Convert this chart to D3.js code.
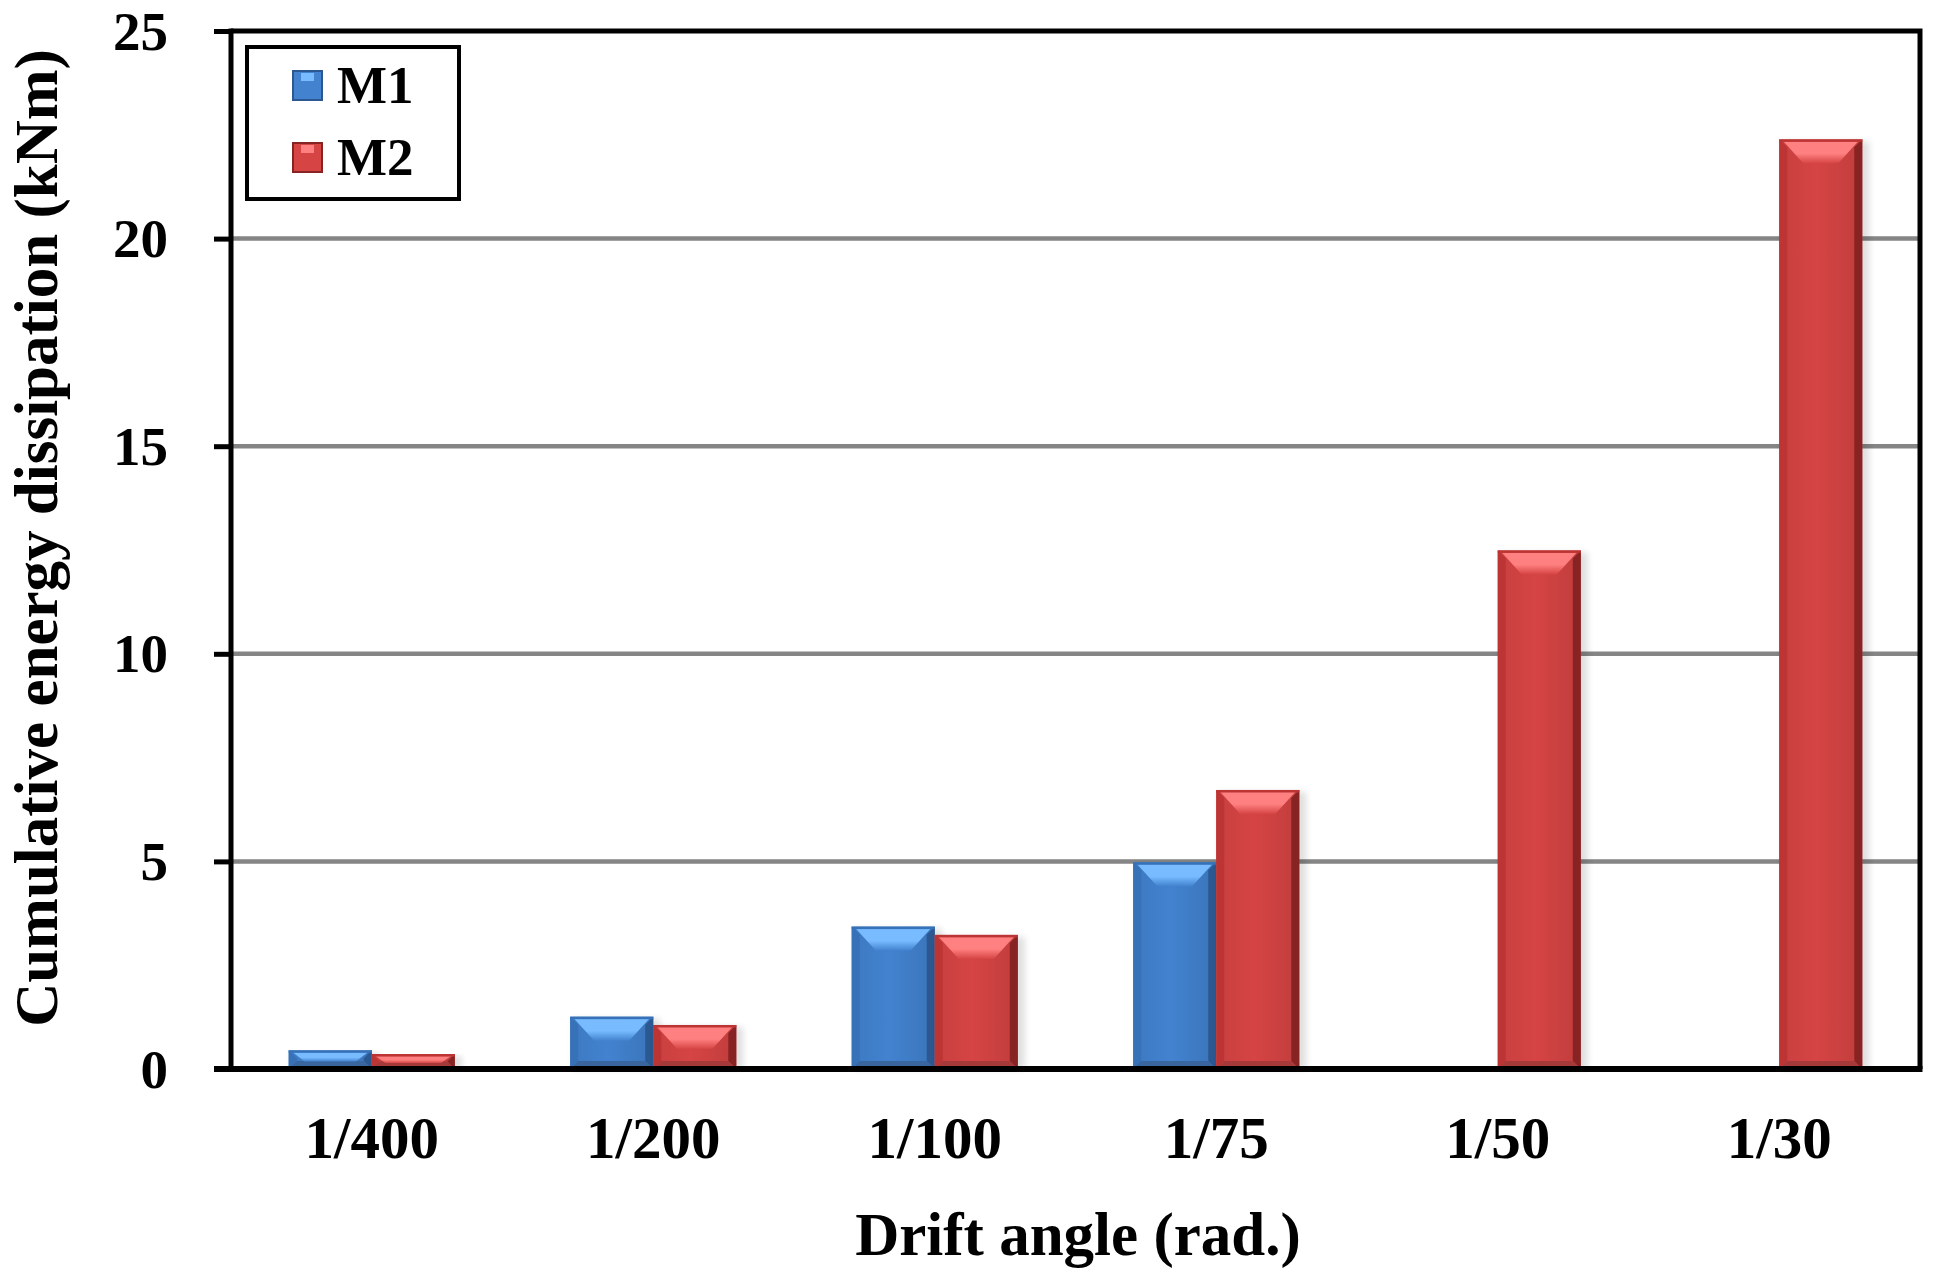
<!DOCTYPE html>
<html lang="en">

<head>
  <meta charset="utf-8">
  <title>Cumulative energy dissipation</title>
  <script src="https://d3js.org/d3.v7.min.js"></script>
</head>

<body>
  <div id="chart"></div>

  <style>
    body { margin: 0; background: #fff; }
    #chart text {
      font-family: "Liberation Serif", "Times New Roman", serif;
      font-weight: bold;
      fill: #000;
    }
  </style>

  <script type="text/javascript">
    "use strict"

    // dados
    var angulos = ['1/400', '1/200', '1/100', '1/75', '1/50', '1/30'];
    var series = ['M1', 'M2'];
    var valoresM1 = [0.45, 1.26, 3.43, 4.98, null, null];
    var valoresM2 = [0.36, 1.06, 3.23, 6.72, 12.49, 22.39];
    var ticksY = [0, 5, 10, 15, 20, 25];

    var cores = {
      M1: {base: '#4282cf', esq: '#3772b8', dir: '#2b5891', topo: '#78bcff', baixo: '#3a66a0'},
      M2: {base: '#d64444', esq: '#bd3434', dir: '#872323', topo: '#ff8080', baixo: '#a63a3a'}
    };

    var larguraSVG = 1939, alturaSVG = 1276;
    var margin = {top: 31, right: 19, bottom: 207, left: 231};
    var larguraVis = larguraSVG - margin.left - margin.right,
        alturaVis = alturaSVG - margin.top - margin.bottom;

    var svg = d3.select('#chart')
      .append('svg')
        .attr('width', larguraSVG)
        .attr('height', alturaSVG);

    // sombra leve das barras e degrades
    var defs = svg.append('defs');
    var filtro = defs.append('filter').attr('id', 'sombra')
      .attr('x', '-20%').attr('y', '-10%').attr('width', '150%').attr('height', '120%');
    filtro.append('feGaussianBlur').attr('stdDeviation', 3);

    series.forEach(function(s) {
      var gt = defs.append('linearGradient').attr('id', 'topo' + s)
        .attr('x1', 0).attr('y1', 0).attr('x2', 0).attr('y2', 1);
      gt.append('stop').attr('offset', '0%').attr('stop-color', cores[s].topo);
      gt.append('stop').attr('offset', '55%').attr('stop-color', cores[s].topo);
      gt.append('stop').attr('offset', '100%').attr('stop-color', cores[s].base);

      var gc = defs.append('linearGradient').attr('id', 'corpo' + s)
        .attr('x1', 0).attr('y1', 0).attr('x2', 1).attr('y2', 0);
      gc.append('stop').attr('offset', '0%').attr('stop-color', d3.color(cores[s].base).darker(0.2));
      gc.append('stop').attr('offset', '45%').attr('stop-color', cores[s].base);
      gc.append('stop').attr('offset', '100%').attr('stop-color', d3.color(cores[s].base).darker(0.3));
    });

    var grafico = svg.append('g')
      .attr('transform', 'translate(' + margin.left + ',' + margin.top + ')');

    // escalas
    var x = d3.scaleBand()
      .domain(angulos)
      .range([0, larguraVis])
      .paddingInner(0.41)
      .paddingOuter(0.205);

    var xSerie = d3.scaleBand()
      .domain(series)
      .range([0, x.bandwidth()]);

    var y = d3.scaleLinear()
      .domain([0, 25])
      .range([alturaVis, 0]);

    // grade
    grafico.append('g')
      .selectAll('line')
      .data(ticksY.filter(function(d) { return d > 0 && d < 25; }))
      .enter()
      .append('line')
        .attr('x1', 0)
        .attr('x2', larguraVis)
        .attr('y1', function(d) { return y(d); })
        .attr('y2', function(d) { return y(d); })
        .attr('stroke', '#858585')
        .attr('stroke-width', 4.5);

    // barras
    var dados = [];
    angulos.forEach(function(a, i) {
      if (valoresM1[i] != null) dados.push({angulo: a, serie: 'M1', valor: valoresM1[i]});
      if (valoresM2[i] != null) dados.push({angulo: a, serie: 'M2', valor: valoresM2[i]});
    });

    var barras = grafico.selectAll('g.barra')
      .data(dados)
      .enter()
      .append('g')
        .attr('class', 'barra');

    barras.each(function(d) {
      var g = d3.select(this);
      var c = cores[d.serie];
      var x0 = x(d.angulo) + xSerie(d.serie),
          x1 = x0 + xSerie.bandwidth(),
          y0 = y(d.valor),
          y1 = y(0),
          h = y1 - y0;
      var s = Math.min(8, h / 2);        // bisel lateral
      var t = Math.min(24, h * 0.6);     // bisel do topo
      var ti = Math.min(16, t * 0.7);

      g.append('rect')
        .attr('x', x0 + 3).attr('y', y0 + 2)
        .attr('width', x1 - x0 + 4).attr('height', h - 2)
        .attr('fill', '#000').attr('opacity', 0.12)
        .attr('filter', 'url(#sombra)');

      g.append('rect')
        .attr('x', x0).attr('y', y0)
        .attr('width', x1 - x0).attr('height', h)
        .attr('fill', 'url(#corpo' + d.serie + ')');

      function poli(pts, cor) {
        g.append('polygon')
          .attr('points', pts.map(function(p) { return p.join(','); }).join(' '))
          .attr('fill', cor);
      }
      // laterais e fundo
      poli([[x0, y0], [x0 + s, y0 + s], [x0 + s, y1 - s], [x0, y1]], c.esq);
      poli([[x1, y0], [x1 - s, y0 + s], [x1 - s, y1 - s], [x1, y1]], c.dir);
      poli([[x0, y1], [x0 + s, y1 - s], [x1 - s, y1 - s], [x1, y1]], c.baixo);
      // topo claro
      poli([[x0 + s * 0.5, y0 + 2], [x1 - s * 0.5, y0 + 2],
            [x1 - s - ti, y0 + t], [x0 + s + ti, y0 + t]], 'url(#topo' + d.serie + ')');
      g.append('rect')
        .attr('x', x0).attr('y', y0)
        .attr('width', x1 - x0).attr('height', 2.5)
        .attr('fill', c.esq);
    });

    // borda do grafico (topo e direita)
    grafico.append('path')
      .attr('d', 'M0,0H' + larguraVis + 'V' + alturaVis)
      .attr('fill', 'none')
      .attr('stroke', '#000')
      .attr('stroke-width', 5);

    // eixo y
    var eixoY = grafico.append('g')
      .call(d3.axisLeft(y).tickValues(ticksY).tickSize(17).tickPadding(46));
    eixoY.select('.domain').remove();
    eixoY.selectAll('.tick line').attr('stroke', '#000').attr('stroke-width', 5);
    eixoY.selectAll('.tick text')
      .attr('font-size', 55)
      .attr('dy', '0.33em');
    eixoY.append('line')
      .attr('x1', 0).attr('x2', 0)
      .attr('y1', -2.5).attr('y2', alturaVis)
      .attr('stroke', '#000').attr('stroke-width', 5);

    // eixo x
    var eixoX = grafico.append('g')
      .attr('transform', 'translate(0,' + alturaVis + ')')
      .call(d3.axisBottom(x).tickSize(0).tickPadding(0));
    eixoX.select('.domain').remove();
    eixoX.selectAll('.tick text')
      .attr('font-size', 59)
      .attr('y', 89)
      .attr('dy', 0);
    eixoX.append('line')
      .attr('x1', -17).attr('x2', larguraVis + 2.5)
      .attr('y1', 0).attr('y2', 0)
      .attr('stroke', '#000').attr('stroke-width', 6);

    // titulos
    svg.append('text')
      .attr('x', 1078)
      .attr('y', 1255)
      .attr('text-anchor', 'middle')
      .attr('font-size', 61)
      .text('Drift angle (rad.)');

    svg.append('text')
      .attr('transform', 'translate(57,538) rotate(-90)')
      .attr('text-anchor', 'middle')
      .attr('font-size', 61)
      .text('Cumulative energy dissipation (kNm)');

    // legenda
    var legenda = svg.append('g');
    legenda.append('rect')
      .attr('x', 247).attr('y', 47)
      .attr('width', 212).attr('height', 152)
      .attr('fill', '#fff')
      .attr('stroke', '#000')
      .attr('stroke-width', 4);

    var itens = legenda.selectAll('g.item')
      .data(series)
      .enter()
      .append('g')
        .attr('class', 'item')
        .attr('transform', function(d, i) { return 'translate(293,' + (71 + i * 72) + ')'; });

    itens.append('rect')
      .attr('width', 29).attr('height', 29)
      .attr('fill', function(d) { return cores[d].base; })
      .attr('stroke', function(d) { return cores[d].dir; })
      .attr('stroke-width', 2);
    itens.append('rect')
      .attr('x', 8).attr('y', 2).attr('width', 13).attr('height', 8)
      .attr('fill', function(d) { return cores[d].topo; });

    itens.append('text')
      .attr('x', 44)
      .attr('y', 32)
      .attr('font-size', 53)
      .text(function(d) { return d; });
  </script>
</body>

</html>
